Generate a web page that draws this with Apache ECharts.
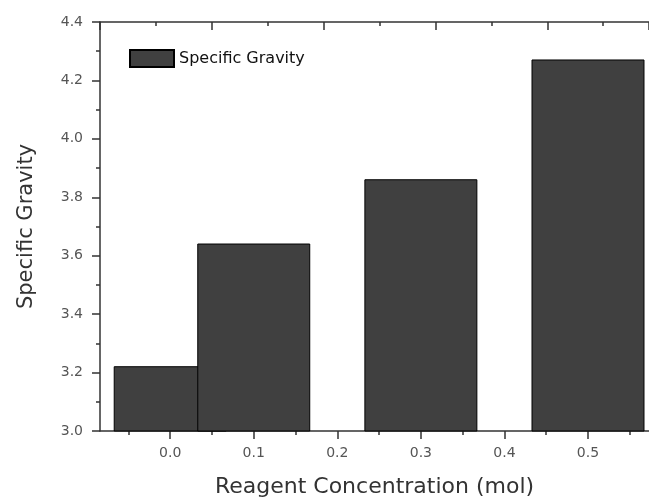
<!DOCTYPE html>
<html>
<head>
<meta charset="utf-8">
<script src="https://cdn.jsdelivr.net/npm/echarts@6/dist/echarts.min.js"></script>
<style>
  html, body { margin: 0; padding: 0; background: #fff; }
  #main { width: 649px; height: 503px; }
</style>
</head>
<body>
<div id="main"></div>
<script>
// data
var concentrations = [0.0, 0.1, 0.3, 0.5];
var gravity = [3.22, 3.64, 3.86, 4.27];
var xTicks = [0.0, 0.1, 0.2, 0.3, 0.4, 0.5];
var xMinorTicks = [-0.05, 0.05, 0.15, 0.25, 0.35, 0.45, 0.55];
var barSpan = 0.134;   // bar width in axis units
var yMin = 3.0;

var myChart = echarts.init(document.getElementById('main'));

var axisLineStyle = { color: '#333', width: 1.5 };
var fontFamily = 'DejaVu Sans';

var seriesData = concentrations.map(function (c, i) {
    return [c, gravity[i]];
});

function renderBar(params, api) {
    var x = api.value(0);
    var v = api.value(1);
    var tl = api.coord([x - barSpan / 2, v]);
    var br = api.coord([x + barSpan / 2, yMin]);
    return {
        type: 'rect',
        shape: { x: tl[0], y: tl[1], width: br[0] - tl[0], height: br[1] - tl[1] },
        style: { fill: '#404040', stroke: '#000', lineWidth: 1 }
    };
}

var option = {
    animation: false,
    textStyle: { fontFamily: fontFamily },
    grid: { left: 100, right: 0, top: 22, bottom: 71 },
    legend: {
        left: 124,
        top: 44,
        itemWidth: 44,
        itemHeight: 17,
        itemGap: 5,
        data: [{ name: 'Specific Gravity', icon: 'rect' }],
        textStyle: { fontSize: 16, color: '#111', fontFamily: fontFamily }
    },
    xAxis: [
        {
            type: 'value',
            position: 'bottom',
            min: -0.084,
            max: 0.573,
            name: 'Reagent Concentration (mol)',
            nameLocation: 'middle',
            nameGap: 45,
            nameTextStyle: { fontSize: 22, color: '#333', fontFamily: fontFamily },
            axisLine: { show: true, onZero: false, lineStyle: axisLineStyle },
            axisTick: { show: true, customValues: xTicks, length: 8, lineStyle: { color: '#333', width: 1.5 } },
            axisLabel: {
                customValues: xTicks,
                margin: 15,
                fontSize: 14,
                color: '#555',
                formatter: function (v) { return v.toFixed(1); }
            },
            splitLine: { show: false }
        },
        {
            type: 'value',
            position: 'bottom',
            min: -0.084,
            max: 0.573,
            axisLine: { show: false, onZero: false },
            axisTick: { show: true, customValues: xMinorTicks, length: 4, lineStyle: { color: '#333', width: 1.5 } },
            axisLabel: { show: false },
            splitLine: { show: false }
        },
        {
            type: 'value',
            position: 'top',
            min: 0,
            max: 4.91,
            interval: 1,
            axisLine: { show: true, onZero: false, lineStyle: axisLineStyle },
            axisTick: { show: true, inside: true, length: 8, lineStyle: { color: '#333', width: 1.5 } },
            minorTick: { show: true, splitNumber: 2, length: 4, lineStyle: { color: '#333', width: 1.5 } },
            axisLabel: { show: false },
            splitLine: { show: false }
        }
    ],
    yAxis: {
        type: 'value',
        position: 'left',
        min: yMin,
        max: 4.4,
        interval: 0.2,
        name: 'Specific Gravity',
        nameLocation: 'middle',
        nameGap: 63,
        nameTextStyle: { fontSize: 21, color: '#333', fontFamily: fontFamily },
        axisLine: { show: true, onZero: false, lineStyle: axisLineStyle },
        axisTick: { show: true, length: 8, lineStyle: { color: '#333', width: 1.5 } },
        minorTick: { show: true, splitNumber: 2, length: 4, lineStyle: { color: '#333', width: 1.5 } },
        axisLabel: {
            margin: 17,
            fontSize: 14,
            color: '#555',
            formatter: function (v) { return v.toFixed(1); }
        },
        splitLine: { show: false }
    },
    series: [
        {
            name: 'Specific Gravity',
            type: 'custom',
            xAxisIndex: 0,
            yAxisIndex: 0,
            renderItem: renderBar,
            itemStyle: { color: '#404040', borderColor: '#000', borderWidth: 1 },
            encode: { x: 0, y: 1 },
            data: seriesData
        }
    ]
};

myChart.setOption(option);
</script>
</body>
</html>
